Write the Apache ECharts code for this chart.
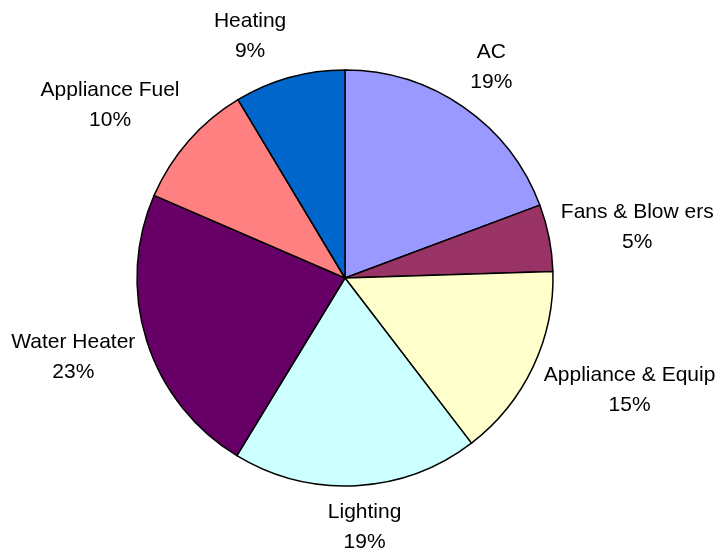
<!DOCTYPE html>
<html>
<head>
<meta charset="utf-8">
<script src="https://cdn.jsdelivr.net/npm/echarts@6/dist/echarts.min.js"></script>
<style>
  html, body { margin: 0; padding: 0; background: #ffffff; }
  #chart { width: 720px; height: 556px; }
</style>
</head>
<body>
<div id="chart"></div>
<script>
const categories = ['AC', 'Fans & Blow ers', 'Appliance & Equip', 'Lighting', 'Water Heater', 'Appliance Fuel', 'Heating'];
const values = [19.3, 5.2, 15.1, 19.1, 22.8, 9.9, 8.6];
const colors = ['#9999FF', '#993366', '#FFFFCC', '#CCFFFF', '#660066', '#FF8080', '#0066CC'];

const CX = 345, CY = 278, R = 208, GAP = 12;
const total = values.reduce((a, b) => a + b, 0);
const cum = [];
values.reduce((acc, v, i) => { cum[i] = acc; return acc + v; }, 0);
const clamp = v => Math.max(-1, Math.min(1, v));

const chart = echarts.init(document.getElementById('chart'), null, { renderer: 'canvas' });
chart.setOption({
  animation: false,
  backgroundColor: '#ffffff',
  series: [{
    type: 'pie',
    center: [CX, CY],
    radius: R,
    startAngle: 90,
    clockwise: true,
    avoidLabelOverlap: false,
    data: categories.map((c, i) => ({ name: c, value: values[i], itemStyle: { color: colors[i] } })),
    itemStyle: { borderColor: '#000000', borderWidth: 1.5 },
    label: {
      show: true,
      position: 'outside',
      color: '#000000',
      fontFamily: 'Liberation Sans, Arial, sans-serif',
      fontSize: 21,
      lineHeight: 30,
      formatter: p => p.name + '\n' + Math.round(p.percent) + '%'
    },
    labelLine: { show: false },
    emphasis: { disabled: true },
    labelLayout: function (params) {
      const i = params.dataIndex;
      const th = (cum[i] + values[i] / 2) / total * Math.PI * 2;
      const sx = Math.sin(th), sy = -Math.cos(th);
      const ax = CX + (R + GAP) * sx, ay = CY + (R + GAP) * sy;
      const w = params.labelRect.width / 2, h = params.labelRect.height / 2;
      return {
        x: ax + w * clamp(sx * 4),
        y: ay + h * clamp(sy * 1.4),
        align: 'center',
        verticalAlign: 'middle'
      };
    }
  }]
});
</script>
</body>
</html>
